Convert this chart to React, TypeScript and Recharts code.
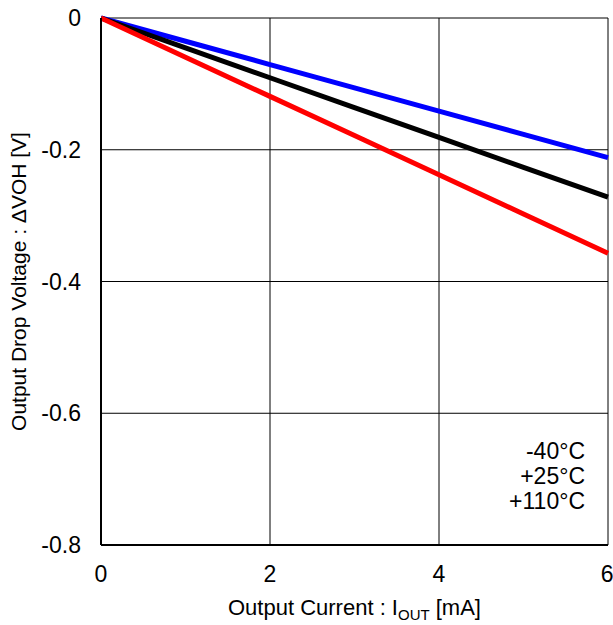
import { CartesianGrid, Line, LineChart, XAxis, YAxis } from "recharts";

const current = [0, 1, 2, 3, 4, 5, 6];
const dropMinus40 = [0, -0.0353, -0.0707, -0.106, -0.1413, -0.1767, -0.212];
const drop25 = [0, -0.0453, -0.0907, -0.136, -0.1813, -0.2267, -0.272];
const drop110 = [0, -0.0595, -0.119, -0.1785, -0.238, -0.2975, -0.357];
const xTicks = [0, 2, 4, 6];
const yTicks = [0, -0.2, -0.4, -0.6, -0.8];
const legendLabels = ["-40°C", "+25°C", "+110°C"];

const data = current.map((c, i) => ({
  current: c,
  m40: dropMinus40[i],
  p25: drop25[i],
  p110: drop110[i]
}));

const font = "'Liberation Sans', Arial, Helvetica, sans-serif";

function XLabel({ viewBox }: any) {
  const cx = viewBox.x + viewBox.width / 2;
  return (
    <text x={cx} y={615} textAnchor="middle" fontSize={22} fontFamily={font} fill="#000">
      Output Current : I
      <tspan fontSize={15} dy={5}>OUT</tspan>
      <tspan dy={-5}> [mA]</tspan>
    </text>
  );
}

function YLabel({ viewBox }: any) {
  const cy = viewBox.y + viewBox.height / 2;
  return (
    <text
      x={26}
      y={cy}
      transform={`rotate(-90, 26, ${cy})`}
      textAnchor="middle"
      fontSize={21}
      fontFamily={font}
      fill="#000"
    >
      Output Drop Voltage : ΔVOH [V]
    </text>
  );
}

export default function App() {
  return (
    <div style={{ position: "absolute", left: 0, top: 0, width: 613, height: 625, background: "#fff" }}>
      <LineChart
        width={613}
        height={625}
        data={data}
        margin={{ top: 18, right: 5, bottom: 0, left: 0 }}
      >
        <CartesianGrid stroke="#000" strokeWidth={1} />
        <XAxis
          dataKey="current"
          type="number"
          domain={[0, 6]}
          ticks={xTicks}
          tickLine={false}
          tickSize={0}
          tickMargin={21}
          axisLine={{ stroke: "#000", strokeWidth: 2 }}
          tick={{ fill: "#000", fontSize: 23, fontFamily: font }}
          height={80}
          label={<XLabel />}
        />
        <YAxis
          type="number"
          domain={[-0.8, 0]}
          ticks={yTicks}
          tickLine={false}
          tickSize={0}
          tickMargin={20}
          axisLine={{ stroke: "#000", strokeWidth: 2 }}
          tick={{ fill: "#000", fontSize: 23, fontFamily: font }}
          tickFormatter={(v: number) => (v === 0 ? "0" : v.toFixed(1))}
          width={101}
          label={<YLabel />}
        />
        <Line dataKey="m40" stroke="#0000ff" strokeWidth={5} dot={false} isAnimationActive={false} type="linear" />
        <Line dataKey="p25" stroke="#000000" strokeWidth={5} dot={false} isAnimationActive={false} type="linear" />
        <Line dataKey="p110" stroke="#ff0000" strokeWidth={5} dot={false} isAnimationActive={false} type="linear" />
      </LineChart>
      <div
        style={{
          position: "absolute",
          right: 28,
          top: 439,
          textAlign: "right",
          fontFamily: font,
          fontSize: 23,
          lineHeight: "25px",
          color: "#000"
        }}
      >
        {legendLabels.map((l) => (
          <div key={l}>{l}</div>
        ))}
      </div>
    </div>
  );
}
